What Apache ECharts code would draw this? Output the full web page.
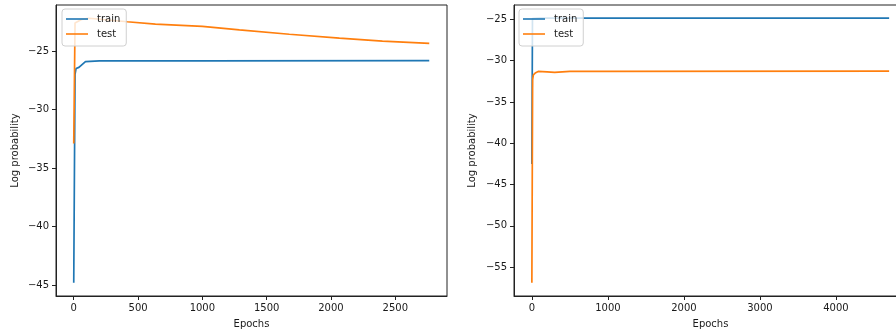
<!DOCTYPE html>
<html>
<head>
<meta charset="utf-8">
<script src="https://cdn.jsdelivr.net/npm/echarts@6/dist/echarts.min.js"></script>
<style>
  html, body { margin: 0; padding: 0; background: #fff; }
  #chart { width: 896px; height: 333px; }
</style>
</head>
<body>
<div id="chart"></div>
<script>
// values
const leftTrainEpochs = [0, 10, 18, 40, 60, 91, 200, 1000, 2764];
const leftTrainValues = [-44.8, -27.0, -26.5, -26.4, -26.2, -25.9, -25.85, -25.85, -25.83];
const leftTestEpochs = [0, 10, 60, 120, 415, 635, 1000, 1288, 1676, 2065, 2400, 2764];
const leftTestValues = [-32.9, -22.6, -22.3, -22.2, -22.5, -22.7, -22.9, -23.2, -23.57, -23.9, -24.15, -24.34];

const rightTrainEpochs = [0, 8, 100, 4700];
const rightTrainValues = [-42.5, -24.9, -24.85, -24.85];
const rightTestEpochs = [0, 10, 20, 50, 83, 200, 300, 500, 1000, 4700];
const rightTestValues = [-56.9, -32.3, -31.7, -31.45, -31.3, -31.35, -31.4, -31.3, -31.28, -31.25];

const leftXTicks = [0, 500, 1000, 1500, 2000, 2500];
const leftYTicks = [-45, -40, -35, -30, -25];
const rightXTicks = [0, 1000, 2000, 3000, 4000];
const rightYTicks = [-55, -50, -45, -40, -35, -30, -25];

const TRAIN = '#1f77b4';
const TEST = '#ff7f0e';
const FONT = 'DejaVu Sans';

const pairs = (xs, ys) => xs.map((x, i) => [x, ys[i]]);
const fmt = (v) => String(v).replace('-', '\u2212');

const xAxisFor = (gridIndex, min, max, ticks) => ({
  type: 'value',
  gridIndex,
  min,
  max,
  name: 'Epochs',
  nameLocation: 'middle',
  nameGap: 23,
  nameTextStyle: { fontFamily: FONT, fontSize: 10, color: '#1a1a1a' },
  splitLine: { show: false },
  axisLine: { show: true, onZero: false, lineStyle: { color: '#222', width: 1 } },
  axisTick: { show: true, length: 4, customValues: ticks, lineStyle: { color: '#222' } },
  axisLabel: {
    customValues: ticks,
    margin: 7,
    fontFamily: FONT,
    fontSize: 10,
    color: '#1a1a1a',
    formatter: fmt,
  },
});

const yAxisFor = (gridIndex, min, max, ticks, gap) => ({
  type: 'value',
  gridIndex,
  min,
  max,
  name: 'Log probability',
  nameLocation: 'middle',
  nameGap: gap,
  nameRotate: 90,
  nameTextStyle: { fontFamily: FONT, fontSize: 10, color: '#1a1a1a' },
  splitLine: { show: false },
  axisLine: { show: true, onZero: false, lineStyle: { color: '#222', width: 1 } },
  axisTick: { show: true, length: 4, customValues: ticks, lineStyle: { color: '#222' } },
  axisLabel: {
    customValues: ticks,
    margin: 7,
    fontFamily: FONT,
    fontSize: 10,
    color: '#1a1a1a',
    formatter: fmt,
  },
});

const legendFor = (left) => ({
  left,
  top: 9,
  orient: 'vertical',
  icon: 'rect',
  itemWidth: 22,
  itemHeight: 1.6,
  itemGap: 5,
  padding: [5, 6, 7, 4],
  backgroundColor: 'rgba(255,255,255,0.8)',
  borderColor: '#d0d0d0',
  borderWidth: 1,
  borderRadius: 3,
  textStyle: { fontFamily: FONT, fontSize: 10, lineHeight: 10, color: '#1a1a1a', padding: [0, 0, 0, 4] },
  data: ['train', 'test'],
});

const lineSeries = (name, color, idx, data) => ({
  name,
  type: 'line',
  xAxisIndex: idx,
  yAxisIndex: idx,
  data,
  symbol: 'none',
  animation: false,
  color,
  lineStyle: { color, width: 1.7 },
});

const chart = echarts.init(document.getElementById('chart'), null, { renderer: 'canvas' });
chart.setOption({
  animation: false,
  backgroundColor: '#fff',
  grid: [
    { left: 56, top: 5, width: 391, bottom: 37, outerBoundsMode: 'none', containLabel: false, show: true, borderColor: '#222', borderWidth: 1, backgroundColor: 'transparent' },
    { left: 514, top: 5, width: 393, bottom: 37, outerBoundsMode: 'none', containLabel: false, show: true, borderColor: '#222', borderWidth: 1, backgroundColor: 'transparent' },
  ],
  legend: [legendFor(62), legendFor(519)],
  xAxis: [
    xAxisFor(0, -138, 2902, leftXTicks),
    xAxisFor(1, -235, 4935, rightXTicks),
  ],
  yAxis: [
    yAxisFor(0, -45.93, -21.07, leftYTicks, 36),
    yAxisFor(1, -58.5, -23.25, rightYTicks, 37),
  ],
  series: [
    lineSeries('train', TRAIN, 0, pairs(leftTrainEpochs, leftTrainValues)),
    lineSeries('test', TEST, 0, pairs(leftTestEpochs, leftTestValues)),
    lineSeries('train', TRAIN, 1, pairs(rightTrainEpochs, rightTrainValues)),
    lineSeries('test', TEST, 1, pairs(rightTestEpochs, rightTestValues)),
  ],
});
</script>
</body>
</html>
